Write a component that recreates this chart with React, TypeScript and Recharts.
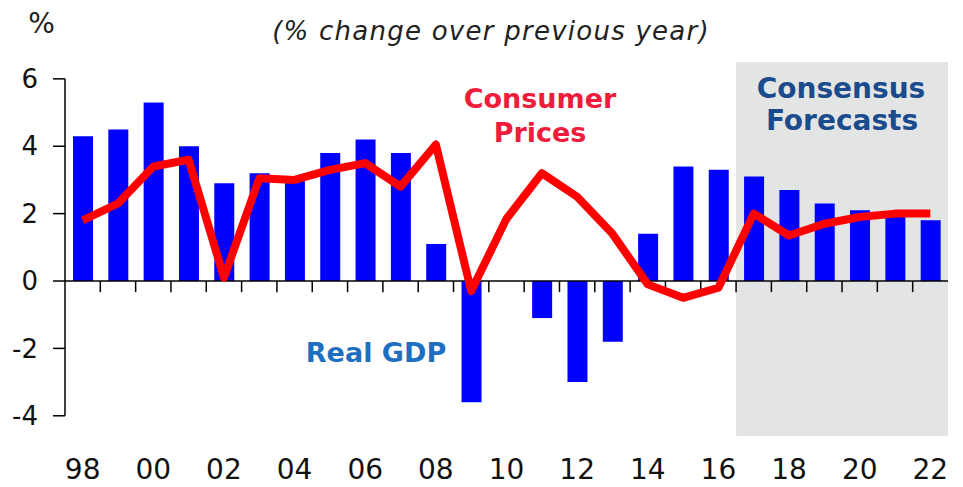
import {
  ComposedChart,
  Bar,
  Line,
  XAxis,
  YAxis,
  ReferenceLine,
  ReferenceArea,
} from "recharts";

// years 1998..2022, shown as two-digit labels
const years = [
  "98", "99", "00", "01", "02", "03", "04", "05", "06", "07", "08", "09",
  "10", "11", "12", "13", "14", "15", "16", "17", "18", "19", "20", "21", "22",
];

const realGdp = [
  4.3, 4.5, 5.3, 4.0, 2.9, 3.2, 3.1, 3.8, 4.2, 3.8, 1.1, -3.6,
  0.0, -1.1, -3.0, -1.8, 1.4, 3.4, 3.3, 3.1, 2.7, 2.3, 2.1, 2.0, 1.8,
];

const consumerPrices = [
  1.8, 2.3, 3.4, 3.6, 0.1, 3.05, 3.0, 3.3, 3.5, 2.8, 4.05, -0.3,
  1.85, 3.2, 2.5, 1.4, -0.1, -0.5, -0.2, 2.0, 1.35, 1.7, 1.9, 2.0, 2.0,
];

const yTicks = [-4, -2, 0, 2, 4, 6];
const yDomain = [-4.6, 6.5];
const forecastStart = "17";

const data = years.map((year, i) => ({
  year,
  gdp: realGdp[i],
  cpi: consumerPrices[i],
}));

const FONT = '"DejaVu Sans", sans-serif';
const AXIS = { stroke: "#000", strokeWidth: 1.5 };

export default function App() {
  return (
    <div
      style={{
        position: "fixed",
        left: 0,
        top: 0,
        width: 963,
        height: 487,
        overflow: "hidden",
        background: "#fff",
      }}
    >
      <ComposedChart
        width={963}
        height={487}
        data={data}
        margin={{ top: 62, right: 15, bottom: 0, left: 0 }}
      >
        <XAxis
          dataKey="year"
          interval={1}
          axisLine={false}
          tickLine={false}
          tickSize={0}
          tickMargin={23}
          height={51}
          tick={{ fill: "#111", fontSize: 28, fontFamily: FONT }}
        />
        <YAxis
          domain={yDomain}
          ticks={yTicks}
          width={65}
          axisLine={false}
          tickSize={12}
          tickMargin={15}
          tickLine={AXIS}
          tick={{ fill: "#111", fontSize: 26, fontFamily: FONT }}
        />

        {/* forecast shading */}
        <ReferenceArea
          x1={forecastStart}
          x2={years[years.length - 1]}
          y1={yDomain[0]}
          y2={yDomain[1]}
          ifOverflow="visible"
          fill="#e3e5e4"
          fillOpacity={1}
          stroke="none"
        />

        {/* zero axis with tick marks between years */}
        <ReferenceLine y={0} {...AXIS} />
        {years.map((y) => (
          <ReferenceLine
            key={y}
            position="end"
            segment={[
              { x: y, y: 0 },
              { x: y, y: -0.33 },
            ]}
            {...AXIS}
          />
        ))}
        <ReferenceLine
          position="start"
          segment={[
            { x: years[0], y: yTicks[0] },
            { x: years[0], y: yTicks[yTicks.length - 1] },
          ]}
          {...AXIS}
        />

        <Bar dataKey="gdp" fill="#0000ff" barSize={20} isAnimationActive={false} />

        <Line
          dataKey="cpi"
          type="linear"
          stroke="#ff0000"
          strokeWidth={8}
          strokeLinejoin="round"
          dot={false}
          activeDot={false}
          isAnimationActive={false}
        />
      </ComposedChart>

      <svg
        width={963}
        height={487}
        style={{ position: "absolute", left: 0, top: 0, pointerEvents: "none" }}
      >
        <text x={41.5} y={33} textAnchor="middle" fontFamily={FONT} fontSize={28} fill="#222">
          %
        </text>
        <text
          x={491}
          y={40}
          textAnchor="middle"
          fontFamily={FONT}
          fontStyle="italic"
          fontSize={26}
          letterSpacing={1.25}
          fill="#222"
        >
          (% change over previous year)
        </text>
        <text x={540} y={108} textAnchor="middle" fontFamily={FONT} fontWeight="bold" fontSize={27} fill="#ee1d3c">
          Consumer
        </text>
        <text x={540} y={142} textAnchor="middle" fontFamily={FONT} fontWeight="bold" fontSize={27} fill="#ee1d3c">
          Prices
        </text>
        <text x={841} y={98} textAnchor="middle" fontFamily={FONT} fontWeight="bold" fontSize={28} fill="#1a4b8c">
          Consensus
        </text>
        <text x={842} y={130} textAnchor="middle" fontFamily={FONT} fontWeight="bold" fontSize={28} fill="#1a4b8c">
          Forecasts
        </text>
        <text x={376} y={362} textAnchor="middle" fontFamily={FONT} fontWeight="bold" fontSize={27} fill="#1f6fc1">
          Real GDP
        </text>
      </svg>
    </div>
  );
}
